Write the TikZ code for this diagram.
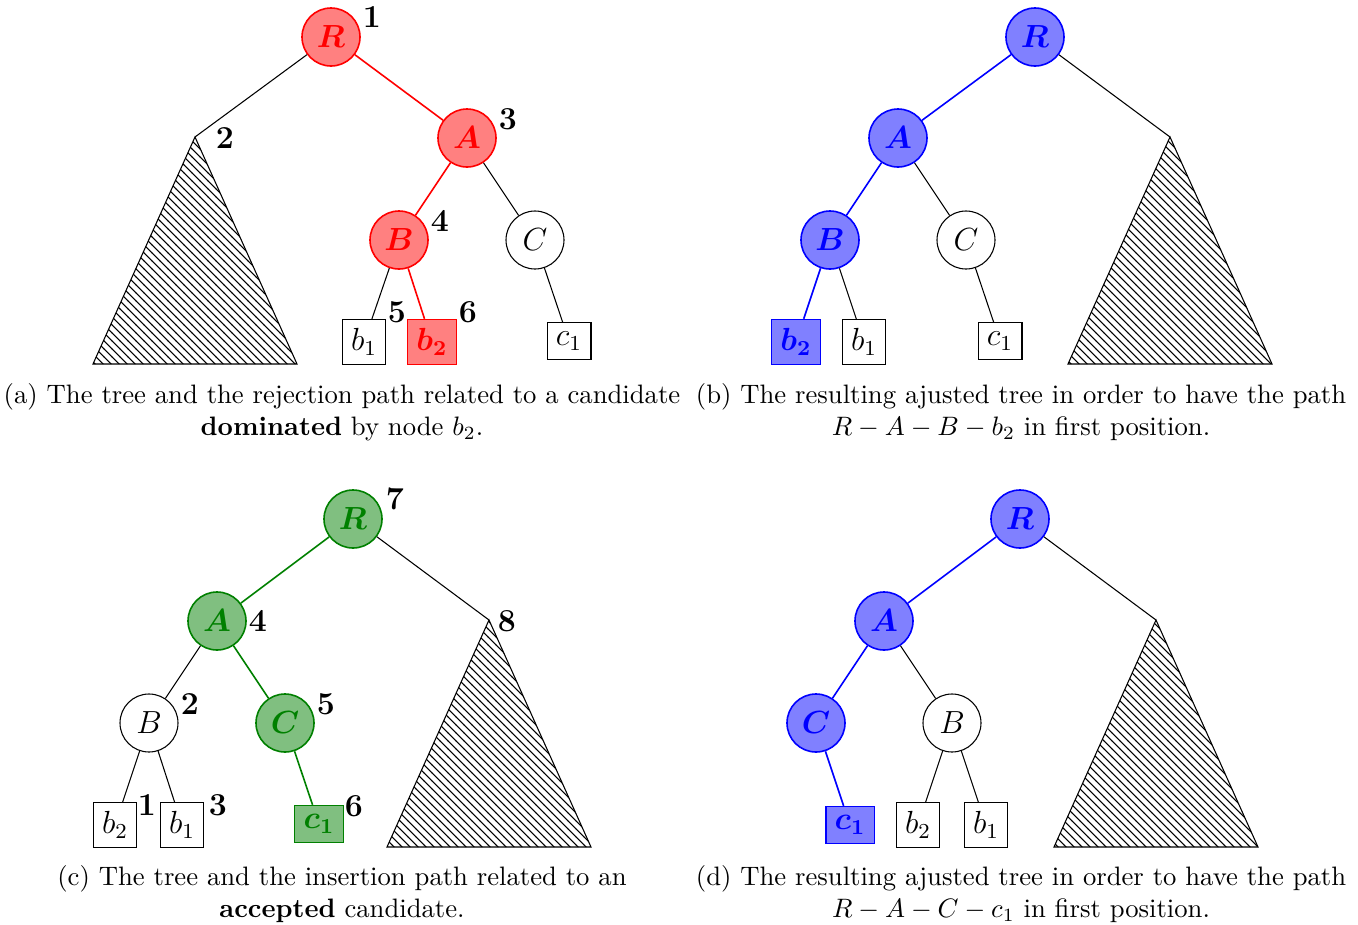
\documentclass[tikz,border=0pt]{standalone}
\usepackage{amsmath,amssymb}
\usepackage{tikz}
\usetikzlibrary{patterns, positioning, calc}

\colorlet{accgreen}{green!50!black}

\begin{document}
\begin{tikzpicture}[x=0.375pt, y=-0.375pt,
    inode/.style={circle, draw, thin, minimum size=21.75pt, inner sep=0pt, font=\large},
    leaf/.style={rectangle, draw, thin, font=\large},
    rejpath/.style={draw=red, fill=red!50, text=red, semithick},
    newpath/.style={draw=blue, fill=blue!50, text=blue, semithick},
    accpath/.style={draw=accgreen, fill=accgreen!50, text=accgreen, semithick},
    num/.style={font=\large\bfseries, inner sep=1pt},
    subtree/.style={draw, thin, pattern=north west lines},
    capline/.style={align=center, font=\normalsize}]
    \useasboundingbox (0,0) rectangle (1358,925);

    % (a) rejection path
    \node[inode, rejpath] (aR) at (331,37) {$\boldsymbol{R}$};
    \node[inode, rejpath] (aA) at (467,138) {$\boldsymbol{A}$};
    \node[inode, rejpath] (aB) at (399,240) {$\boldsymbol{B}$};
    \node[inode] (aC) at (535,240) {$C$};
    \node[leaf] (ab1) at (364,342) {$b_1$};
    \node[leaf, rejpath] (ab2) at (432,342) {$\boldsymbol{b_2}$};
    \node[leaf] (ac1) at (569,341) {$c_1$};
    \coordinate (atop) at (195,137);
    \draw[subtree] (atop) -- (93,364) -- (297,364) -- cycle;
    \draw (aR) -- (atop);
    \draw[red, semithick] (aR) -- (aA) -- (aB) -- (ab2);
    \draw (aA) -- (aC) -- (ac1);
    \draw (aB) -- (ab1);
    \node[num] (an1) at (372,17) {1};
    \node[num] (an2) at (225,138) {2};
    \node[num] (an3) at (508,119) {3};
    \node[num] (an4) at (440,221) {4};
    \node[num] (an5) at (397,312) {5};
    \node[num] (an6) at (468,312) {6};
    \node[capline] (capa) at (342,412) {(a) The tree and the rejection path related to a candidate\\
        \textbf{dominated} by node $b_2$.};

    % (b) adjusted tree
    \node[inode, newpath] (bR) at (1035,37) {$\boldsymbol{R}$};
    \node[inode, newpath] (bA) at (898,138) {$\boldsymbol{A}$};
    \node[inode, newpath] (bB) at (830,240) {$\boldsymbol{B}$};
    \node[inode] (bC) at (966,240) {$C$};
    \node[leaf, newpath] (bb2) at (796,342) {$\boldsymbol{b_2}$};
    \node[leaf] (bb1) at (864,342) {$b_1$};
    \node[leaf] (bc1) at (1000,341) {$c_1$};
    \coordinate (btop) at (1170,137);
    \draw[subtree] (btop) -- (1068,364) -- (1272,364) -- cycle;
    \draw (bR) -- (btop);
    \draw[blue, semithick] (bR) -- (bA) -- (bB) -- (bb2);
    \draw (bA) -- (bC) -- (bc1);
    \draw (bB) -- (bb1);
    \node[capline] (capb) at (1021,412) {(b) The resulting ajusted tree in order to have the path\\
        $R-A-B-b_2$ in first position.};

    % (c) insertion path
    \node[inode, accpath] (cR) at (353,519) {$\boldsymbol{R}$};
    \node[inode, accpath] (cA) at (217,621) {$\boldsymbol{A}$};
    \node[inode] (cB) at (149,723) {$B$};
    \node[inode, accpath] (cC) at (285,723) {$\boldsymbol{C}$};
    \node[leaf] (cb2) at (115,825) {$b_2$};
    \node[leaf] (cb1) at (182,825) {$b_1$};
    \node[leaf, accpath] (cc1) at (319,824) {$\boldsymbol{c_1}$};
    \coordinate (ctop) at (489,620);
    \draw[subtree] (ctop) -- (387,847) -- (591,847) -- cycle;
    \draw (cR) -- (ctop);
    \draw[accgreen, semithick] (cR) -- (cA) -- (cC) -- (cc1);
    \draw (cA) -- (cB) -- (cb2);
    \draw (cB) -- (cb1);
    \node[num] (cn1) at (147,805) {1};
    \node[num] (cn2) at (190,704) {2};
    \node[num] (cn3) at (218,805) {3};
    \node[num] (cn4) at (258,621) {4};
    \node[num] (cn5) at (326,704) {5};
    \node[num] (cn6) at (354,806) {6};
    \node[num] (cn7) at (395,499) {7};
    \node[num] (cn8) at (507,621) {8};
    \node[capline] (capc) at (342,894) {(c) The tree and the insertion path related to an\\
        \textbf{accepted} candidate.};

    % (d) adjusted tree
    \node[inode, newpath] (dR) at (1020,519) {$\boldsymbol{R}$};
    \node[inode, newpath] (dA) at (884,621) {$\boldsymbol{A}$};
    \node[inode, newpath] (dC) at (816,723) {$\boldsymbol{C}$};
    \node[inode] (dB) at (952,723) {$B$};
    \node[leaf, newpath] (dc1) at (850,825) {$\boldsymbol{c_1}$};
    \node[leaf] (db2) at (918,825) {$b_2$};
    \node[leaf] (db1) at (986,825) {$b_1$};
    \coordinate (dtop) at (1156,620);
    \draw[subtree] (dtop) -- (1054,847) -- (1258,847) -- cycle;
    \draw (dR) -- (dtop);
    \draw[blue, semithick] (dR) -- (dA) -- (dC) -- (dc1);
    \draw (dA) -- (dB) -- (db2);
    \draw (dB) -- (db1);
    \node[capline] (capd) at (1021,894) {(d) The resulting ajusted tree in order to have the path\\
        $R-A-C-c_1$ in first position.};
\end{tikzpicture}
\end{document}
